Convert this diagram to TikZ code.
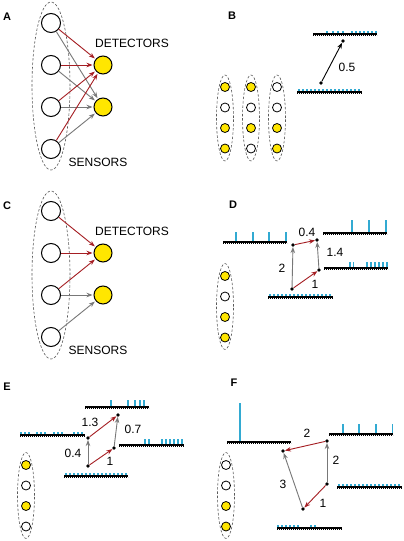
\documentclass[tikz,border=0pt]{standalone}
\usepackage{fontspec}
\setmainfont{Liberation Sans}
\usetikzlibrary{arrows.meta}
\definecolor{dred}{RGB}{165,30,35}
\definecolor{dgray}{RGB}{120,120,120}
\definecolor{egray}{RGB}{90,90,90}
\definecolor{tickblue}{RGB}{50,170,210}
\definecolor{yel}{RGB}{255,230,0}
\tikzset{
 sensor/.style={circle,draw=black,line width=1pt,fill=white,minimum size=19pt,inner sep=0pt},
 detector/.style={sensor,fill=yel,minimum size=18pt},
 cell/.style={circle,draw=black,line width=0.8pt,fill=white,minimum size=9pt,inner sep=0pt},
 ycell/.style={cell,fill=yel},
 group/.style={draw=egray,dash pattern=on 2.5pt off 1.8pt,line width=0.6pt},
 redarr/.style={draw=dred,line width=0.9pt,-{Stealth[length=6pt,width=4.5pt]}},
 grayarr/.style={draw=dgray,line width=0.9pt,-{Stealth[length=6pt,width=4.5pt]}},
 blackarr/.style={draw=black,line width=0.9pt,-{Stealth[length=6pt,width=4.5pt]}},
 netgap/.style={shorten >=1pt},
 dot/.style={circle,fill=black,minimum size=3.6pt,inner sep=0pt},
 lbl/.style={font=\fontsize{12}{14}\selectfont,inner sep=0pt},
 plabel/.style={font=\fontsize{11}{13}\selectfont\bfseries,inner sep=0pt},
 trainbase/.style={line width=1.2pt,black},
 hatch/.style={line width=1pt,black,dash pattern=on 0.8pt off 1.2pt},
 tickmark/.style={tickblue,line width=1.1pt},
}
% base line of a spike train: x1, x2, y
\newcommand\trainline[3]{\draw[trainbase] (#1,#3) -- (#2,#3); \draw[hatch] (#1,#3+1.3) -- (#2,#3+1.3);}
% spikes: y, height, list of x
\newcommand\spikes[3]{\foreach \t in {#3} {\draw[tickmark] (\t,#1-0.6) -- (\t,#1-#2);}}
\begin{document}
\begin{tikzpicture}[x=1pt,y=-1pt]
\useasboundingbox (0,0) rectangle (404,541);
\fill[white] (0,0) rectangle (404,541);

% ---------------- Panel A ----------------
\node[plabel] (labA) at (7,17) {A};
\draw[group] (51,86) ellipse [x radius=19pt, y radius=84pt];
\node[sensor] (a1) at (51,23) {};
\node[sensor] (a2) at (51,65) {};
\node[sensor] (a3) at (51,107) {};
\node[sensor] (a4) at (51,149) {};
\node[detector] (ad1) at (103,65) {};
\node[detector] (ad2) at (103,107) {};
\node[lbl] (adt) at (132,43) {DETECTORS};
\node[lbl] (ast) at (98,162) {SENSORS};
\foreach \s in {a1,a2,a3,a4} {\draw[grayarr,netgap] (\s) -- (ad2);}
\foreach \s in {a1,a2,a3,a4} {\draw[redarr,netgap] (\s) -- (ad1);}

% ---------------- Panel C ----------------
\node[plabel] (labC) at (7,206) {C};
\draw[group] (51,275) ellipse [x radius=19pt, y radius=84pt];
\node[sensor] (c1) at (51,211) {};
\node[sensor] (c2) at (51,253) {};
\node[sensor] (c3) at (51,295) {};
\node[sensor] (c4) at (51,337) {};
\node[detector] (cd1) at (103,253) {};
\node[detector] (cd2) at (103,295) {};
\node[lbl] (cdt) at (132,231) {DETECTORS};
\node[lbl] (cst) at (98,350) {SENSORS};
\draw[redarr,netgap] (c1) -- (cd1);
\draw[redarr,netgap] (c2) -- (cd1);
\draw[redarr,netgap] (c3) -- (cd1);
\draw[grayarr,netgap] (c3) -- (cd2);
\draw[grayarr,netgap] (c4) -- (cd2);

% ---------------- Panel B ----------------
\node[plabel] (labB) at (232,16) {B};
\foreach \x in {225,251,277} {\draw[group] (\x,118) ellipse [x radius=8.5pt, y radius=43pt];}
\node[ycell] (b11) at (225,87) {};
\node[cell]  (b12) at (225,107.5) {};
\node[ycell] (b13) at (225,128) {};
\node[ycell] (b14) at (225,148.5) {};
\node[ycell] (b21) at (251,87) {};
\node[cell]  (b22) at (251,107.5) {};
\node[ycell] (b23) at (251,128) {};
\node[cell]  (b24) at (251,148.5) {};
\node[cell]  (b31) at (277,87) {};
\node[cell]  (b32) at (277,107.5) {};
\node[ycell] (b33) at (277,128) {};
\node[ycell] (b34) at (277,148.5) {};
\spikes{34}{3.5}{327,333,338,343,352,356,360,364,368,372,376}
\trainline{313}{377}{34}
\spikes{92}{3.5}{299,303,...,361}
\trainline{297}{362}{92}
\node[dot] (bp1) at (321,83) {};
\node[dot] (bp2) at (343,41) {};
\draw[blackarr] (bp1) -- (bp2);
\node[lbl] (b05) at (347,67) {0.5};

% ---------------- Panel D ----------------
\node[plabel] (labD) at (233,205) {D};
\draw[group] (225,306.5) ellipse [x radius=8.5pt, y radius=43pt];
\node[ycell] (d1) at (225,276) {};
\node[cell]  (d2) at (225,296.5) {};
\node[ycell] (d3) at (225,317) {};
\node[ycell] (d4) at (225,337.5) {};
\spikes{242}{10}{236,253,269,286}
\trainline{223}{287}{242}
\spikes{233}{13}{352,369,386}
\trainline{323}{387}{233}
\spikes{268}{6}{350,353.5,367,371,375,379,383,387}
\trainline{324}{388}{268}
\spikes{297}{3.5}{270,274,...,332}
\trainline{268}{333}{297}
\node[dot] (da) at (292,289) {};
\node[dot] (db) at (293,245) {};
\node[dot] (dc) at (319,270) {};
\node[dot] (dd) at (317,240) {};
\draw[grayarr] (da) -- (db);
\draw[redarr] (da) -- (dc);
\draw[redarr] (db) -- (dd);
\draw[grayarr] (dc) -- (dd);
\node[lbl] (dl2) at (282,268) {2};
\node[lbl] (dl1) at (315,284) {1};
\node[lbl] (dl04) at (307,232) {0.4};
\node[lbl] (dl14) at (335,252) {1.4};

% ---------------- Panel E ----------------
\node[plabel] (labE) at (7,387) {E};
\draw[group] (26,495.5) ellipse [x radius=8.5pt, y radius=43pt];
\node[ycell] (e1) at (26,465) {};
\node[cell]  (e2) at (26,485.5) {};
\node[ycell] (e3) at (26,506) {};
\node[cell]  (e4) at (26,526.5) {};
\spikes{407}{7}{111,128,135,140,144}
\trainline{85}{149}{407}
\spikes{435}{3.5}{21,25,29,37,41,45,54,58,62,74,78,82}
\trainline{20}{85}{435}
\spikes{445}{6}{145,149,162,166,170,174,178,182}
\trainline{119}{184}{445}
\spikes{476}{3.5}{66,70,...,127}
\trainline{64}{128}{476}
\node[dot] (ea) at (88,466) {};
\node[dot] (eb) at (88,438) {};
\node[dot] (ec) at (114,448) {};
\node[dot] (ed) at (118,415) {};
\draw[grayarr] (ea) -- (eb);
\draw[redarr] (ea) -- (ec);
\draw[redarr] (eb) -- (ed);
\draw[grayarr] (ec) -- (ed);
\node[lbl] (el04) at (73,453) {0.4};
\node[lbl] (el1) at (110,461) {1};
\node[lbl] (el13) at (90,422) {1.3};
\node[lbl] (el07) at (133,429) {0.7};

% ---------------- Panel F ----------------
\node[plabel] (labF) at (234,383) {F};
\draw[group] (226,495.5) ellipse [x radius=8.5pt, y radius=43pt];
\node[cell]  (f1) at (226,465) {};
\node[cell]  (f2) at (226,485.5) {};
\node[ycell] (f3) at (226,506) {};
\node[ycell] (f4) at (226,526.5) {};
\spikes{442}{39}{240}
\trainline{227}{291}{442}
\spikes{434}{10}{343,359,376,392.5}
\trainline{329}{393}{434}
\spikes{487}{3.5}{339,343,...,401}
\trainline{337}{402}{487}
\spikes{528}{3.5}{278,282,286,290,294,298,311,315}
\trainline{277}{342}{528}
\node[dot] (fa) at (327,441) {};
\node[dot] (fb) at (283,451) {};
\node[dot] (fc) at (327,484) {};
\node[dot] (fd) at (303,509) {};
\draw[redarr] (fa) -- (fb);
\draw[grayarr] (fc) -- (fa);
\draw[redarr] (fc) -- (fd);
\draw[grayarr] (fd) -- (fb);
\node[lbl] (fl2a) at (307,433) {2};
\node[lbl] (fl2b) at (336,460) {2};
\node[lbl] (fl1) at (323,503) {1};
\node[lbl] (fl3) at (283,484) {3};
\end{tikzpicture}
\end{document}
